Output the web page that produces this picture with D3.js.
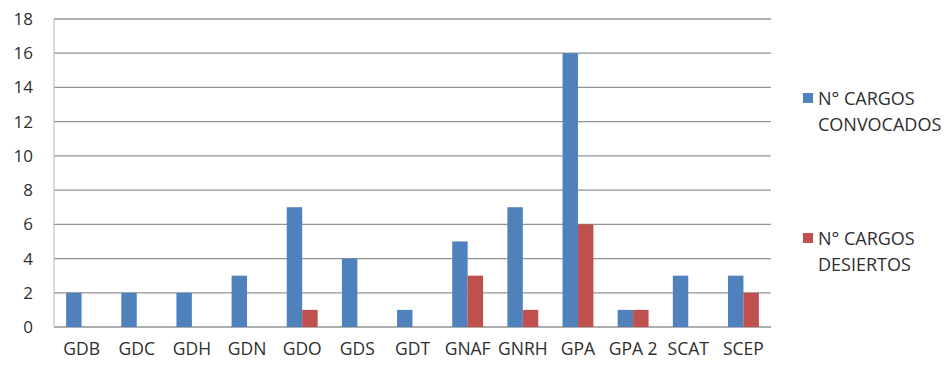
<!DOCTYPE html>
<html>
<head>
<meta charset="utf-8">
<script src="https://cdn.jsdelivr.net/npm/d3@7"></script>
<style>
  html, body { margin: 0; padding: 0; background: #fff; }
  svg { display: block; }
  text { font-family: "Open Sans", sans-serif; fill: #2e2e2e; }
</style>
</head>
<body>
<svg id="chart" width="951" height="365"></svg>
<script>
// Cargos convocados y desiertos por unidad
const categories = ["GDB", "GDC", "GDH", "GDN", "GDO", "GDS", "GDT", "GNAF", "GNRH", "GPA", "GPA 2", "SCAT", "SCEP"];
const convocados = [2, 2, 2, 3, 7, 4, 1, 5, 7, 16, 1, 3, 3];
const desiertos  = [0, 0, 0, 0, 1, 0, 0, 3, 1, 6, 1, 0, 2];
const yTicks = [0, 2, 4, 6, 8, 10, 12, 14, 16, 18];

const colors = ["#4F81BD", "#C0504D"];
const series = [convocados, desiertos];

const svg = d3.select("#chart");
const margin = { left: 54, top: 19 };
const plotW = 771 - margin.left;
const plotH = 327 - margin.top;

const g = svg.append("g").attr("transform", `translate(${margin.left},${margin.top})`);

const x = d3.scaleBand().domain(categories).range([0, plotW]);
const y = d3.scaleLinear().domain([0, 18]).range([plotH, 0]);

// horizontal gridlines
g.append("g")
  .selectAll("line")
  .data(yTicks)
  .join("line")
  .attr("x1", 0).attr("x2", plotW)
  .attr("y1", d => y(d)).attr("y2", d => y(d))
  .attr("stroke", "#939393")
  .attr("stroke-width", 1.3);

// vertical axis line
g.append("line")
  .attr("x1", 0).attr("x2", 0)
  .attr("y1", y(18)).attr("y2", y(0))
  .attr("stroke", "#b4b4b4")
  .attr("stroke-width", 1);

// y axis labels
const yAxis = d3.axisLeft(y).tickValues(yTicks).tickSize(0).tickPadding(21);
const yg = g.append("g").call(yAxis);
yg.select(".domain").remove();
yg.selectAll("text").style("font-size", "17px").attr("fill", "#2e2e2e").style("font-family", "'Open Sans', sans-serif");

// x axis labels
const xAxis = d3.axisBottom(x).tickSize(0).tickPadding(16);
const xg = g.append("g").attr("transform", `translate(0,${plotH})`).call(xAxis);
xg.select(".domain").remove();
xg.selectAll("text").style("font-size", "17.5px").attr("fill", "#2e2e2e").style("font-family", "'Open Sans', sans-serif");

// bars
const groupW = x.bandwidth() * 0.56;
const inner = d3.scaleBand().domain([0, 1]).range([0, groupW]);
const groups = g.append("g")
  .selectAll("g")
  .data(categories)
  .join("g")
  .attr("transform", d => `translate(${x(d) + (x.bandwidth() - groupW) / 2},0)`);

groups.selectAll("rect")
  .data((d, i) => series.map((s, k) => ({ k, v: s[i] })))
  .join("rect")
  .attr("x", d => inner(d.k))
  .attr("width", inner.bandwidth())
  .attr("y", d => y(d.v))
  .attr("height", d => y(0) - y(d.v))
  .attr("fill", d => colors[d.k]);

// legend
const legendItems = [
  { lines: ["N° CARGOS", "CONVOCADOS"], y: 93 },
  { lines: ["N° CARGOS", "DESIERTOS"], y: 233 }
];
const lg = svg.append("g");
legendItems.forEach((item, i) => {
  lg.append("rect")
    .attr("x", 803).attr("y", item.y)
    .attr("width", 10).attr("height", 10)
    .attr("fill", colors[i]);
  const t = lg.append("text")
    .attr("x", 818).attr("y", item.y + 12)
    .style("font-size", "18px");
  item.lines.forEach((ln, j) => {
    t.append("tspan").attr("x", 818).attr("dy", j === 0 ? 0 : 26).text(ln);
  });
});
</script>
</body>
</html>
